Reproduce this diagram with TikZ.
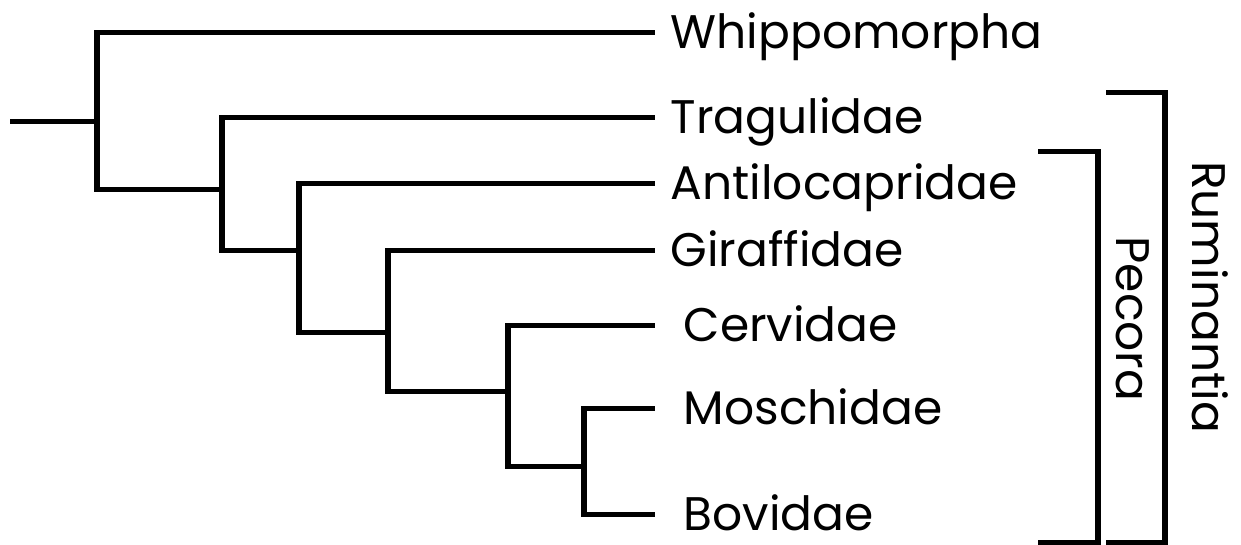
\documentclass[tikz,border=0pt]{standalone}
\usepackage{fontspec}
\setmainfont{Poppins}
\usepackage{tikz}

\begin{document}
\begin{tikzpicture}[
  x=0.01cm, y=-0.01cm,
  font=\fontsize{13.4}{16}\selectfont,
  branch/.style={line width=0.05cm, line cap=butt},
  taxon/.style={anchor=west, inner xsep=0.15cm, inner ysep=0pt, text height=0.33cm, text depth=0pt},
  clade/.style={rotate=-90, inner sep=0pt, text height=0.33cm, text depth=0pt}
]
\useasboundingbox (0,0) rectangle (1241,544);
% taxa
\node[taxon] (whip) at (655,32) {Whippomorpha};
\node[taxon] (trag) at (655,117) {Tragulidae};
\node[taxon] (anti) at (655,183) {Antilocapridae};
\node[taxon] (gira) at (655,250) {Giraffidae};
\node[taxon, inner xsep=0.28cm] (cerv) at (655,325) {Cervidae};
\node[taxon, inner xsep=0.28cm] (mosc) at (655,408) {Moschidae};
\node[taxon, inner xsep=0.28cm] (bovi) at (655,514) {Bovidae};
% internal nodes
\coordinate (root) at (10,121);
\coordinate (nA) at (97,121);
\coordinate (nB) at (222,189);
\coordinate (nC) at (299,250);
\coordinate (nD) at (388,332);
\coordinate (nE) at (508,391);
\coordinate (nF) at (584,466);
\draw[branch] (root) -- (nA);
\draw[branch] (nA) |- (whip.west);
\draw[branch] (nA) |- (nB);
\draw[branch] (nB) |- (trag.west);
\draw[branch] (nB) |- (nC);
\draw[branch] (nC) |- (anti.west);
\draw[branch] (nC) |- (nD);
\draw[branch] (nD) |- (gira.west);
\draw[branch] (nD) |- (nE);
\draw[branch] (nE) |- (cerv.west);
\draw[branch] (nE) |- (nF);
\draw[branch] (nF) |- (mosc.west);
\draw[branch] (nF) |- (bovi.west);
% clades
\coordinate (pecT) at (1038,151);
\coordinate (pecB) at (1038,542);
\coordinate (rumT) at (1106,92);
\coordinate (rumB) at (1106,542);
\draw[branch] (pecT) -- (1098,151) -- (1098,542) -- (pecB);
\draw[branch] (rumT) -- (1165,92) -- (1165,542) -- (rumB);
\node[clade] (peco) at (1133,319) {Pecora};
\node[clade] (rumi) at (1209,297) {Ruminantia};
\end{tikzpicture}
\end{document}
